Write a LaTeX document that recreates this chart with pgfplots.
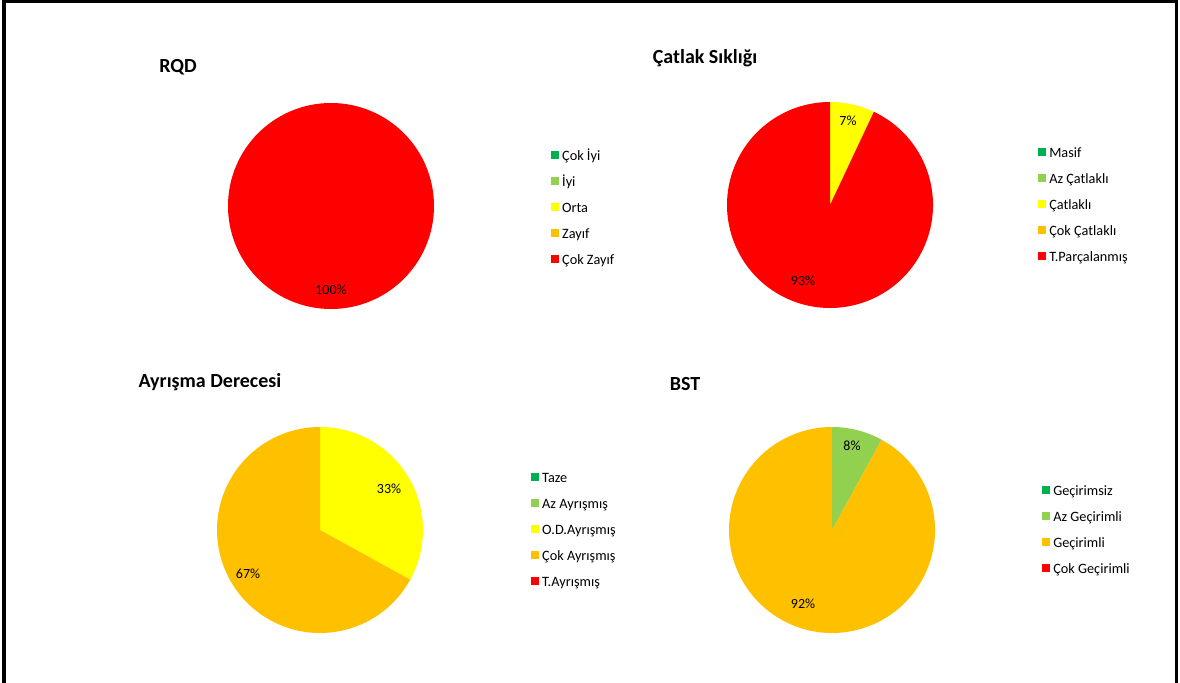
\documentclass[border=0pt]{standalone}
\usepackage{pgfplots}
\pgfplotsset{compat=1.18}
\usepackage{fontspec}
\setmainfont{Carlito}
\definecolor{cgreen}{HTML}{00B050}
\definecolor{clgreen}{HTML}{92D050}
\definecolor{cyellow}{HTML}{FFFF00}
\definecolor{corange}{HTML}{FFC000}
\definecolor{cred}{HTML}{FF0000}
\pgfplotsset{
  piebase/.style={
    at={(0,0)}, anchor=origin, scale only axis,
    x=0.75pt, y=0.75pt, xmin=0, xmax=1180, ymin=0, ymax=682,
    hide axis, clip=false,
    legend image code/.code={\fill[##1] (0pt,-1.5pt) rectangle (5.4pt,3.9pt);},
    legend cell align=left,
    legend style={draw=none, fill=none, inner sep=0pt, outer sep=0pt,
      anchor=north west, row sep=9.4pt, column sep=2.6pt,
      font=\fontsize{10.7}{12}\selectfont,
      nodes={inner sep=0pt, text height=8pt, text depth=2pt}},
  },
}
\tikzset{
  ttl/.style={font=\bfseries\fontsize{15}{18}\selectfont},
  pct/.style={font=\fontsize{10.5}{12}\selectfont},
}
\begin{document}
\begin{tikzpicture}
\useasboundingbox (0,0) rectangle (885pt,511.5pt);
% ---------- RQD ----------
\begin{axis}[piebase, legend style={at={(0.4669,0.7802)}}]
\draw[line width=2.25pt] (axis cs:4,-20) -- (axis cs:4,680) -- (axis cs:1176,680) -- (axis cs:1176,-20);
\addlegendimage{cgreen}\addlegendentry{Çok İyi}
\addlegendimage{clgreen}\addlegendentry{İyi}
\addlegendimage{cyellow}\addlegendentry{Orta}
\addlegendimage{corange}\addlegendentry{Zayıf}
\addlegendimage{cred}\addlegendentry{Çok Zayıf}
% Çok Zayıf 100
\fill[cred] (axis cs:331,476) circle[radius=77.25pt];
\node[pct] at (axis cs:331,392) {100\%};
\node[ttl] at (axis cs:178,615) {RQD};
\end{axis}
% ---------- Çatlak Sıklığı ----------
\begin{axis}[piebase, legend style={at={(0.8797,0.7846)}}]
\addlegendimage{cgreen}\addlegendentry{Masif}
\addlegendimage{clgreen}\addlegendentry{Az Çatlaklı}
\addlegendimage{cyellow}\addlegendentry{Çatlaklı}
\addlegendimage{corange}\addlegendentry{Çok Çatlaklı}
\addlegendimage{cred}\addlegendentry{T.Parçalanmış}
% Çatlaklı 7, T.Parçalanmış 93
\fill[cyellow] (axis cs:830,477) -- ++(90:77.25pt) arc[start angle=90, end angle={90-3.6*7}, radius=77.25pt] -- cycle;
\fill[cred] (axis cs:830,477) -- ++({90-3.6*7}:77.25pt) arc[start angle={90-3.6*7}, end angle={90-3.6*(7+93)}, radius=77.25pt] -- cycle;
\node[pct] at (axis cs:848,561) {7\%};
\node[pct] at (axis cs:803,401) {93\%};
\node[ttl] at (axis cs:705,624) {Çatlak Sıklığı};
\end{axis}
% ---------- Ayrışma Derecesi ----------
\begin{axis}[piebase, legend style={at={(0.4500,0.3081)}}]
\addlegendimage{cgreen}\addlegendentry{Taze}
\addlegendimage{clgreen}\addlegendentry{Az Ayrışmış}
\addlegendimage{cyellow}\addlegendentry{O.D.Ayrışmış}
\addlegendimage{corange}\addlegendentry{Çok Ayrışmış}
\addlegendimage{cred}\addlegendentry{T.Ayrışmış}
% O.D.Ayrışmış 33, Çok Ayrışmış 67
\fill[cyellow] (axis cs:320,152) -- ++(90:77.25pt) arc[start angle=90, end angle={90-3.6*33}, radius=77.25pt] -- cycle;
\fill[corange] (axis cs:320,152) -- ++({90-3.6*33}:77.25pt) arc[start angle={90-3.6*33}, end angle={90-3.6*(33+67)}, radius=77.25pt] -- cycle;
\node[pct] at (axis cs:389,193) {33\%};
\node[pct] at (axis cs:248,108) {67\%};
\node[ttl] at (axis cs:210,300) {Ayrışma Derecesi};
\end{axis}
% ---------- BST ----------
\begin{axis}[piebase, legend style={at={(0.8831,0.2890)}}]
\addlegendimage{cgreen}\addlegendentry{Geçirimsiz}
\addlegendimage{clgreen}\addlegendentry{Az Geçirimli}
\addlegendimage{corange}\addlegendentry{Geçirimli}
\addlegendimage{cred}\addlegendentry{Çok Geçirimli}
% Az Geçirimli 8, Geçirimli 92
\fill[clgreen] (axis cs:832,152) -- ++(90:77.25pt) arc[start angle=90, end angle={90-3.6*8}, radius=77.25pt] -- cycle;
\fill[corange] (axis cs:832,152) -- ++({90-3.6*8}:77.25pt) arc[start angle={90-3.6*8}, end angle={90-3.6*(8+92)}, radius=77.25pt] -- cycle;
\node[pct] at (axis cs:852,236) {8\%};
\node[pct] at (axis cs:803,78) {92\%};
\node[ttl] at (axis cs:685,298) {BST};
\end{axis}
\end{tikzpicture}
\end{document}
